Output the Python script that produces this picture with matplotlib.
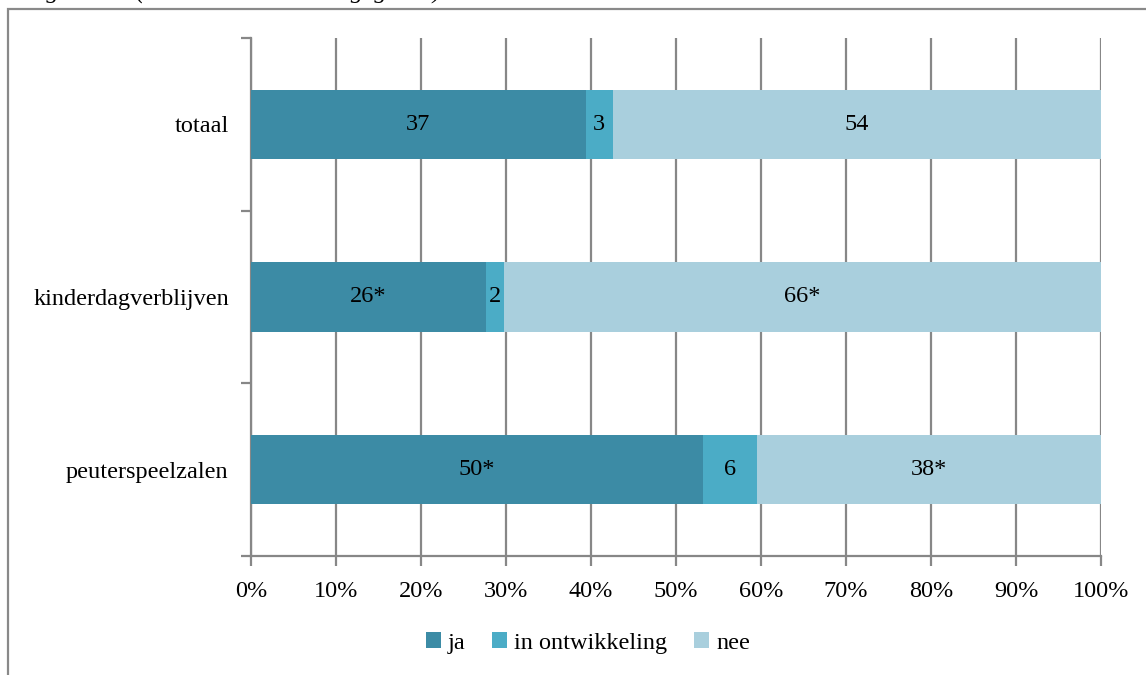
import matplotlib
matplotlib.use('Agg')
import matplotlib.pyplot as plt
import matplotlib.patches as patches
import numpy as np

# Data (values as printed; bars are normalised to 100%)
categories = ['peuterspeelzalen', 'kinderdagverblijven', 'totaal']
ja = [50, 26, 37]
in_ontw = [6, 2, 3]
nee = [38, 66, 54]
ja_labels = ['50*', '26*', '37']
ontw_labels = ['6', '2', '3']
nee_labels = ['38*', '66*', '54']
series_names = ['ja', 'in ontwikkeling', 'nee']
colors = ['#3C8BA5', '#4BACC6', '#A9CFDD']
xticks = np.arange(0, 101, 10)
xtick_labels = [f'{v}%' for v in xticks]

plt.rcParams['font.family'] = ['Liberation Serif', 'DejaVu Serif']
grid_col = '#878787'
fs = 17.5

fig = plt.figure(figsize=(11.46, 6.75), dpi=100)
ax = fig.add_axes([251 / 1146, 1 - 556 / 675, 850 / 1146, 518 / 675])

# outer frame (extends past the picture edges)
frame = patches.Rectangle((8 / 1146, -0.1), 1.2, 1 - 9 / 675 + 0.1,
                          transform=fig.transFigure, fill=False,
                          edgecolor='#898989', linewidth=1.6, clip_on=False)
fig.patches.append(frame)

# clipped title remainder at the very top
fig.text(0.005, 1.011, 'vastgesteld? (alle antwoorden aangegeven)',
         fontsize=18, fontstyle='italic', ha='left', va='center')

y = np.arange(len(categories))
series = [np.array(ja, float), np.array(in_ontw, float), np.array(nee, float)]
totals = sum(series)
labels = [ja_labels, ontw_labels, nee_labels]
left = np.zeros(len(categories))
for vals, col, name, labs in zip(series, colors, series_names, labels):
    pct = vals / totals * 100
    ax.barh(y, pct, left=left, height=0.4, color=col, label=name, zorder=3)
    for yi, l, p, t in zip(y, left, pct, labs):
        ax.text(l + p / 2, yi, t, ha='center', va='center', fontsize=fs,
                color='black', zorder=4)
    left = left + pct

ax.set_xlim(0, 100)
ax.set_ylim(-0.5, 2.5)
ax.set_xticks(xticks)
ax.set_xticklabels(xtick_labels, fontsize=fs)
ax.set_yticks(y)
ax.set_yticklabels(categories, fontsize=fs)
ax.set_yticks([-0.5, 0.5, 1.5, 2.5], minor=True)
ax.tick_params(axis='y', which='major', length=0, pad=16)
ax.tick_params(axis='y', which='minor', length=7, width=1.6, color=grid_col)
ax.tick_params(axis='x', length=7, width=1.6, color=grid_col, pad=11)
ax.xaxis.grid(True, color=grid_col, linewidth=1.6, zorder=0)
ax.set_axisbelow(True)
for s in ['top', 'right']:
    ax.spines[s].set_visible(False)
for s in ['left', 'bottom']:
    ax.spines[s].set_color(grid_col)
    ax.spines[s].set_linewidth(1.6)

fig.legend(*ax.get_legend_handles_labels(), loc='center',
           bbox_to_anchor=(588 / 1146, 1 - 643 / 675), ncol=3, frameon=False,
           fontsize=fs, handlelength=0.6, handleheight=0.6,
           handletextpad=0.3, columnspacing=1.1)

fig.savefig('out.png', dpi=100, facecolor='white')
